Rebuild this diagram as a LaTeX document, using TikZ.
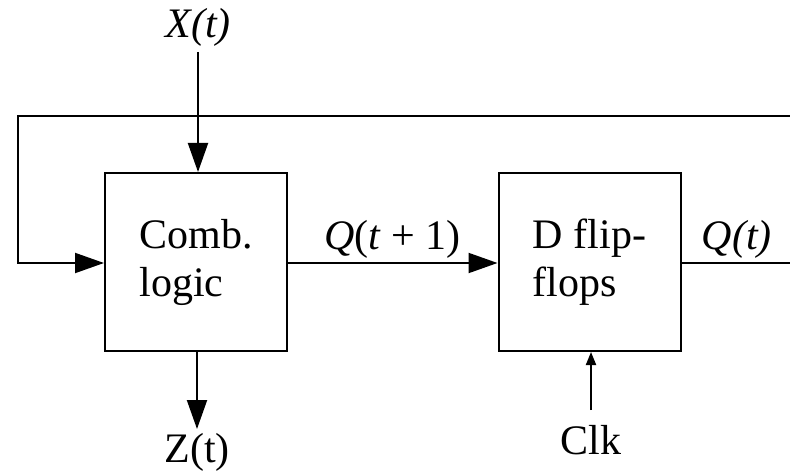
\documentclass[tikz,border=0pt]{standalone}
\usepackage{fontspec}
\setmainfont{Liberation Serif}
\usetikzlibrary{arrows.meta, positioning}
\tikzset{
  every picture/.style={line join=miter, font=\fontsize{21}{24}\selectfont},
  % function blocks
  block/.style={draw, line width=1pt, minimum width=91pt, minimum height=89pt, align=left, inner sep=0pt},
  lbl/.style={inner sep=2pt},
  wire/.style={line width=1pt},
  arr/.style={wire, -{Triangle[length=14.5pt, width=10pt]}},
  clkarr/.style={wire, -{Triangle[length=6.5pt, width=5pt]}},
}
\begin{document}
\begin{tikzpicture}[x=0.5pt, y=-0.5pt]
  \useasboundingbox (0,0) rectangle (790,470);
  % blocks
  \node[block] (comb) at (196,262) {Comb.\\logic};
  \node[block] (dff) at (589.5,262) {D flip-\\flops};
  % inputs and outputs
  \node[lbl] (xin) at (198,27) {\textit{X(t)}};
  \node[lbl] (zout) at (197,452) {Z(t)};
  \node[lbl] (clk) at (591,440) {Clk};
  \coordinate (xend) at (198,52);
  \coordinate (zend) at (197,429);
  \coordinate (clkend) at (591,410);
  % feedback corners (right one lies past the edge)
  \coordinate (fbR) at (800,263);
  \coordinate (fbL) at (18,116);
  \draw[arr] (xend) -- (xend |- comb.north);
  \draw[arr] (zend |- comb.south) -- (zend);
  \draw[clkarr] (clkend) -- (clkend |- dff.south);
  \draw[arr] (comb.east |- 0,263) -- node[above, lbl] {\textit{Q}(\textit{t} + 1)} (dff.west |- 0,263);
  \draw[wire] (dff.east |- 0,263) -- node[above, lbl, pos=0.5, xshift=-2pt] {\textit{Q(t)}} (fbR);
  \draw[arr] (fbR) |- (fbL) |- (comb.west |- 0,263);
\end{tikzpicture}
\end{document}
